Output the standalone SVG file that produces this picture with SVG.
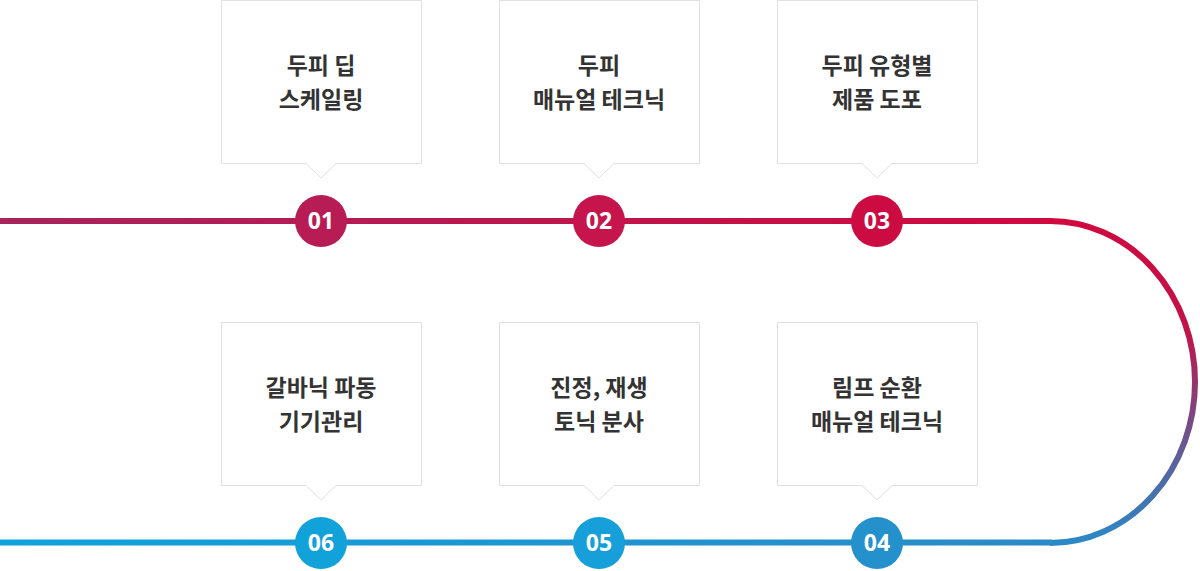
<svg xmlns="http://www.w3.org/2000/svg" width="1200" height="571" viewBox="0 0 1200 571">
<style>
.box{fill:#fff;stroke:#e0e0e0;stroke-width:1}
.lbl{font-family:"Noto Sans CJK KR","Noto Sans",sans-serif;font-weight:700;font-size:23px;fill:#333;text-anchor:middle}
.num{font-family:"Noto Sans","Liberation Sans",sans-serif;font-weight:700;font-size:23px;fill:#fff;text-anchor:middle}
</style>
<defs>
<linearGradient id="gTop" gradientUnits="userSpaceOnUse" x1="0" y1="0" x2="1050" y2="0">
<stop offset="0" stop-color="#a8245c"/><stop offset="1" stop-color="#d0093f"/>
</linearGradient>
<linearGradient id="gCurve" gradientUnits="userSpaceOnUse" x1="0" y1="221" x2="0" y2="543">
<stop offset="0" stop-color="#d0093f"/><stop offset="0.35" stop-color="#c0144a"/><stop offset="0.6" stop-color="#7e4680"/><stop offset="0.8" stop-color="#4f6aa6"/><stop offset="1" stop-color="#2a8ac6"/>
</linearGradient>
<linearGradient id="gBot" gradientUnits="userSpaceOnUse" x1="0" y1="0" x2="1050" y2="0">
<stop offset="0" stop-color="#0ea3dc"/><stop offset="1" stop-color="#2a8ac6"/>
</linearGradient>
</defs>
<g id="connectors" fill="none" stroke-width="6">
<path d="M0 221 H1052" stroke="url(#gTop)"/>
<path d="M1050 221 A145 161 0 0 1 1050 543" stroke="url(#gCurve)"/>
<path d="M0 542.5 H1052" stroke="url(#gBot)"/>
</g>
<g id="node1">
<path class="box" d="M221.5 0.5 H421.5 V163.5 H336 L321 178 L306 163.5 H221.5 Z"/>
<text class="lbl" x="321" y="74">두피 딥</text>
<text class="lbl" x="321" y="108">스케일링</text>
<circle cx="321" cy="221" r="26" fill="#b81c55"/>
<text class="num" x="321" y="229">01</text>
</g>
<g id="node2">
<path class="box" d="M499.5 0.5 H699.5 V163.5 H614 L599 178 L584 163.5 H499.5 Z"/>
<text class="lbl" x="599" y="74">두피</text>
<text class="lbl" x="599" y="108">매뉴얼 테크닉</text>
<circle cx="599" cy="221" r="26" fill="#c5154c"/>
<text class="num" x="599" y="229">02</text>
</g>
<g id="node3">
<path class="box" d="M777.5 0.5 H977.5 V163.5 H892 L877 178 L862 163.5 H777.5 Z"/>
<text class="lbl" x="877" y="74">두피 유형별</text>
<text class="lbl" x="877" y="108">제품 도포</text>
<circle cx="877" cy="221" r="26" fill="#cd0b43"/>
<text class="num" x="877" y="229">03</text>
</g>
<g id="node4">
<path class="box" d="M777.5 322.5 H977.5 V485.5 H892 L877 500 L862 485.5 H777.5 Z"/>
<text class="lbl" x="877" y="396">림프 순환</text>
<text class="lbl" x="877" y="430">매뉴얼 테크닉</text>
<circle cx="877" cy="543" r="26" fill="#2490cc"/>
<text class="num" x="877" y="551">04</text>
</g>
<g id="node5">
<path class="box" d="M499.5 322.5 H699.5 V485.5 H614 L599 500 L584 485.5 H499.5 Z"/>
<text class="lbl" x="599" y="396">진정, 재생</text>
<text class="lbl" x="599" y="430">토닉 분사</text>
<circle cx="599" cy="543" r="26" fill="#169fd8"/>
<text class="num" x="599" y="551">05</text>
</g>
<g id="node6">
<path class="box" d="M221.5 322.5 H421.5 V485.5 H336 L321 500 L306 485.5 H221.5 Z"/>
<text class="lbl" x="321" y="396">갈바닉 파동</text>
<text class="lbl" x="321" y="430">기기관리</text>
<circle cx="321" cy="543" r="26" fill="#11a2da"/>
<text class="num" x="321" y="551">06</text>
</g>
</svg>
